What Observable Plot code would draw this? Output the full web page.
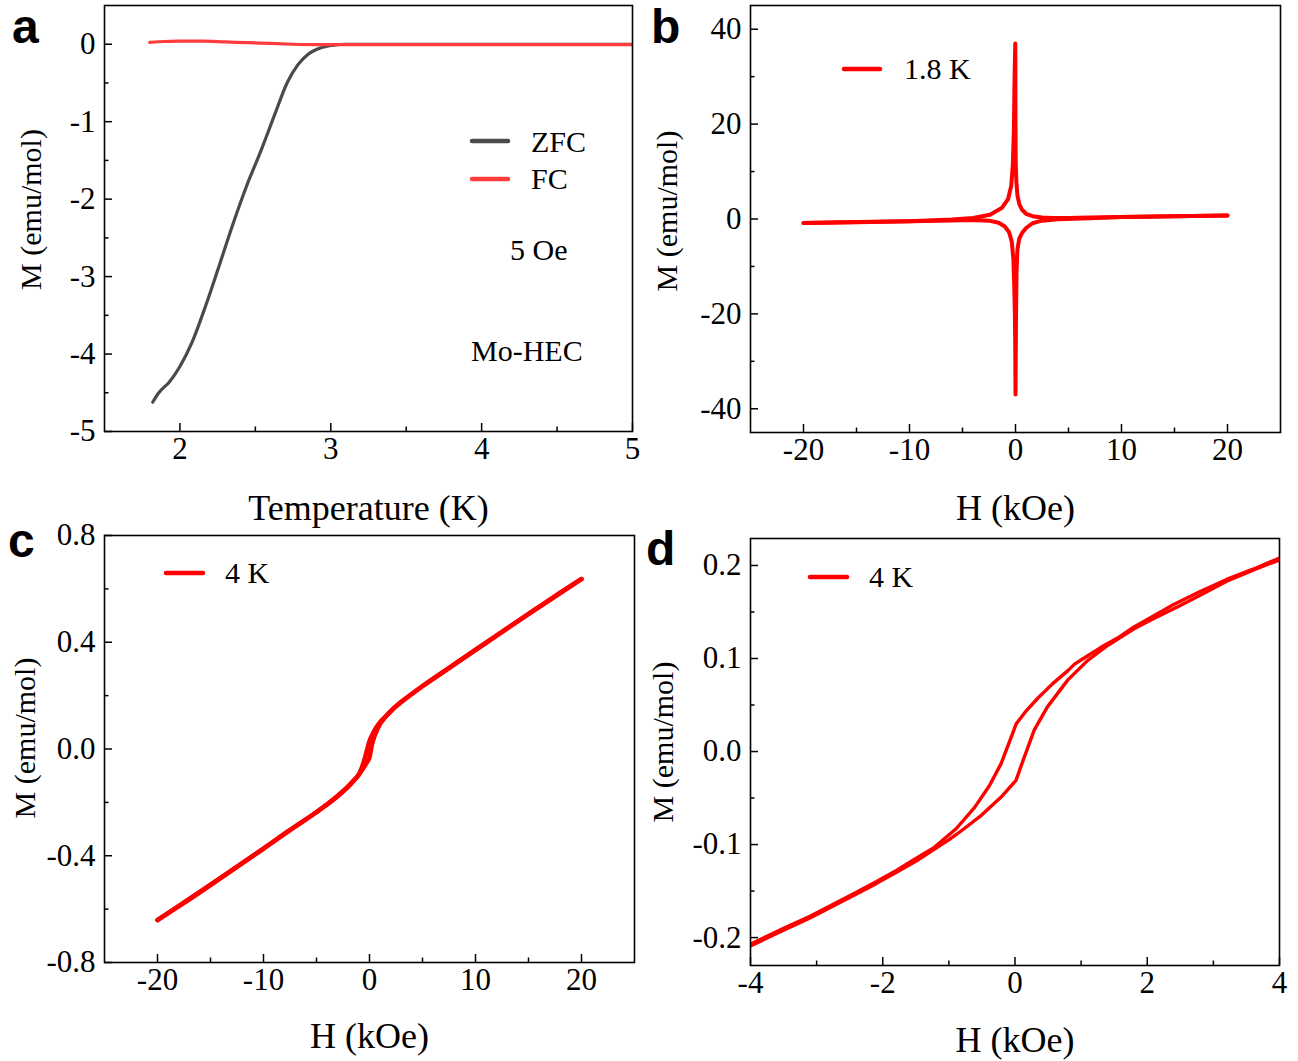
<!DOCTYPE html>
<html><head><meta charset="utf-8">
<script src="https://cdn.jsdelivr.net/npm/d3@7"></script>
<script src="https://cdn.jsdelivr.net/npm/@observablehq/plot@0.6"></script>
<style>
html,body{margin:0;padding:0;background:#fff;}
#root{position:relative;width:1298px;height:1061px;overflow:hidden;background:#fff;}
.panel{position:absolute;}
#overlay{position:absolute;left:0;top:0;}
</style></head><body><div id="root"></div>
<script>
// ---------- Panel a: ZFC / FC at 5 Oe ----------
const zfcT = [1.82, 1.86, 1.93, 2.0, 2.08, 2.17, 2.26, 2.35, 2.44, 2.54, 2.63, 2.71, 2.78, 2.85, 2.93, 3.01, 3.1, 3.5, 4.0, 4.5, 5.0];
const zfcM = [-4.62, -4.50, -4.36, -4.16, -3.85, -3.38, -2.86, -2.33, -1.84, -1.36, -0.90, -0.50, -0.27, -0.13, -0.05, -0.015, 0, 0, 0, 0, 0];
const fcT = [1.8, 1.9, 2.0, 2.15, 2.3, 2.45, 2.6, 2.75, 2.9, 3.2, 3.6, 4.0, 4.5, 5.0];
const fcM = [0.025, 0.035, 0.04, 0.04, 0.03, 0.02, 0.01, 0.0, -0.005, -0.005, -0.005, -0.005, -0.005, -0.005];
const aXMajor = [2, 3, 4, 5];
const aXMinor = [2.5, 3.5, 4.5];
const aYMajor = [0, -1, -2, -3, -4, -5];
const aYMinor = [-0.5, -1.5, -2.5, -3.5, -4.5];

// ---------- Panel b: M(H) loop at 1.8 K ----------
const bDescH = [20, 15, 10, 7, 5, 3.5, 2.5, 1.6, 1.0, 0.6, 0.35, 0.18, 0.08, 0.02, 0, -0.02, -0.06, -0.1, -0.15, -0.25, -0.4, -0.7, -1.3, -2.4, -4, -6, -10, -15, -20];
const bDescM = [0.72, 0.58, 0.42, 0.3, 0.22, 0.2, 0.3, 0.6, 1.1, 2.0, 3.2, 5.0, 8, 12, 20, 37, 33, 28, 19, 11.5, 7, 4.2, 2.3, 0.9, 0.2, -0.1, -0.45, -0.65, -0.85];
const bAscH = [-20, -15, -10, -6, -4, -2.5, -1.6, -1.0, -0.6, -0.35, -0.2, -0.12, -0.06, -0.02, 0, 0.02, 0.05, 0.1, 0.18, 0.35, 0.6, 1.0, 1.6, 2.5, 4, 7, 10, 15, 20];
const bAscM = [-0.85, -0.68, -0.5, -0.3, -0.22, -0.35, -0.8, -1.6, -2.8, -4.8, -8.5, -14, -20, -28, -37, -30, -20, -11, -6.5, -4.2, -3.0, -1.9, -0.9, -0.35, -0.05, 0.15, 0.4, 0.58, 0.72];
const bXMajor = [-20, -10, 0, 10, 20];
const bXMinor = [-15, -5, 5, 15];
const bYMajor = [40, 20, 0, -20, -40];
const bYMinor = [30, 10, -10, -30];

// ---------- Panel c: M(H) at 4 K, full range ----------
const cDescH = [20, 17.5, 15, 12.5, 10, 7.5, 5, 4, 3, 2, 1.5, 1, 0.5, 0.25, 0, -0.25, -0.5, -1, -1.5, -2, -3, -4, -5, -7.5, -10, -12.5, -15, -17.5, -20];
const cDescM = [0.637, 0.571, 0.505, 0.439, 0.372, 0.304, 0.236, 0.207, 0.177, 0.142, 0.121, 0.101, 0.072, 0.053, 0.03, -0.006, -0.043, -0.095, -0.118, -0.139, -0.175, -0.207, -0.236, -0.303, -0.373, -0.442, -0.51, -0.577, -0.641];
const cAscH = [-20, -17.5, -15, -12.5, -10, -7.5, -5, -4, -3, -2, -1.5, -1, -0.5, -0.25, 0, 0.25, 0.5, 1, 1.5, 2, 3, 4, 5, 7.5, 10, 12.5, 15, 17.5, 20];
const cAscM = [-0.641, -0.575, -0.508, -0.441, -0.373, -0.304, -0.237, -0.208, -0.177, -0.141, -0.12, -0.096, -0.067, -0.05, -0.031, 0.02, 0.051, 0.094, 0.12, 0.141, 0.176, 0.206, 0.235, 0.303, 0.37, 0.439, 0.506, 0.573, 0.637];
const cXMajor = [-20, -10, 0, 10, 20];
const cXMinor = [-15, -5, 5, 15];
const cYMajor = [0.8, 0.4, 0.0, -0.4, -0.8];
const cYMinor = [0.6, 0.2, -0.2, -0.6];

// ---------- Panel d: M(H) at 4 K, low field ----------
const dDescH = [4, 3.6, 3.2, 2.8, 2.4, 2.0, 1.8, 1.55, 1.3, 1.1, 0.9, 0.8, 0.57, 0.34, 0.15, 0.02, -0.06, -0.21, -0.39, -0.61, -0.89, -1.22, -1.5, -1.8, -2.1, -2.5, -2.8, -3.1, -3.5, -4];
const dDescM = [0.208, 0.196, 0.185, 0.172, 0.158, 0.142, 0.134, 0.122, 0.112, 0.103, 0.094, 0.087, 0.073, 0.057, 0.042, 0.030, 0.015, -0.013, -0.037, -0.060, -0.083, -0.103, -0.115, -0.128, -0.140, -0.155, -0.166, -0.177, -0.190, -0.207];
const dAscH = [-4, -3.5, -3.1, -2.8, -2.5, -2.1, -1.8, -1.5, -1.2, -1.0, -0.77, -0.5, -0.21, 0.015, 0.12, 0.29, 0.49, 0.8, 1.1, 1.4, 1.8, 2.1, 2.5, 2.8, 3.2, 3.6, 4];
const dAscM = [-0.209, -0.192, -0.179, -0.168, -0.157, -0.142, -0.130, -0.118, -0.104, -0.095, -0.083, -0.068, -0.049, -0.031, -0.010, 0.023, 0.048, 0.077, 0.098, 0.114, 0.132, 0.143, 0.157, 0.168, 0.183, 0.195, 0.206];
const dXMajor = [-4, -2, 0, 2, 4];
const dXMinor = [-3, -1, 1, 3];
const dYMajor = [0.2, 0.1, 0.0, -0.1, -0.2];
const dYMinor = [0.15, 0.05, -0.05, -0.15];

// ---------- text ----------
const xLabelT = "Temperature (K)";
const xLabelH = "H (kOe)";
const yLabelM = "M (emu/mol)";

const SERIF = "'Liberation Serif','Times New Roman',serif";
const SANS = "'Liberation Sans',Arial,sans-serif";
const zipXY = (xs, ys) => xs.map((x, i) => ({x, y: ys[i]}));
const intFmt = d => String(d);
const decFmt = d => d.toFixed(1);

const root = document.getElementById("root");

function panel(o) {
  const m = o.margin;
  const pw = o.width - m.left - m.right;
  const ph = o.height - m.top - m.bottom;
  const marks = [];
  for (const s of o.series) {
    marks.push(Plot.line(s.data, {x: "x", y: "y", stroke: s.color, strokeWidth: s.width,
      curve: s.curve || "linear", strokeLinejoin: "round", strokeLinecap: "round", clip: true}));
  }
  const tk = {stroke: "black", strokeWidth: 1.5};
  marks.push(Plot.tickX(o.xMajor, {x: d => d, insetTop: ph - 8, ...tk}));
  marks.push(Plot.tickX(o.xMinor, {x: d => d, insetTop: ph - 4.5, ...tk}));
  marks.push(Plot.tickY(o.yMajor, {y: d => d, insetRight: pw - 8, ...tk}));
  marks.push(Plot.tickY(o.yMinor, {y: d => d, insetRight: pw - 4.5, ...tk}));
  marks.push(Plot.frame({stroke: "black", strokeWidth: 1.6}));
  marks.push(Plot.axisX({ticks: o.xMajor, tickSize: 0, tickPadding: 5, tickFormat: o.xFmt, label: null,
    fontSize: 31, fontFamily: SERIF, fontVariant: "normal"}));
  marks.push(Plot.axisY({ticks: o.yMajor, tickSize: 0, tickPadding: 9, tickFormat: o.yFmt, label: null,
    fontSize: 31, fontFamily: SERIF, fontVariant: "normal"}));
  marks.push(Plot.text([o.xLabel], {text: d => d, frameAnchor: "bottom", lineAnchor: "middle", textAnchor: "middle",
    dy: o.xLabelDy, fontSize: 36, fontFamily: SERIF}));
  marks.push(Plot.text([o.yLabel], {text: d => d, frameAnchor: "left", lineAnchor: "middle", textAnchor: "middle",
    dx: o.yLabelDx, dy: o.yLabelDy, rotate: -90, fontSize: 30, fontFamily: SERIF}));
  const svg = Plot.plot({
    width: o.width, height: o.height,
    marginTop: m.top, marginRight: m.right, marginBottom: m.bottom, marginLeft: m.left,
    x: {domain: o.xDomain},
    y: {domain: o.yDomain},
    style: {fontFamily: SERIF, fontSize: "31px", color: "black", background: "transparent", overflow: "visible"},
    marks
  });
  svg.classList.add("panel");
  svg.style.left = o.left + "px";
  svg.style.top = o.top + "px";
  root.appendChild(svg);
}

panel({
  left: 0, top: 0, width: 650, height: 530,
  margin: {top: 5, right: 18, bottom: 99, left: 104},
  xDomain: [1.5, 5], yDomain: [-5, 0.5],
  xMajor: aXMajor, xMinor: aXMinor, yMajor: aYMajor, yMinor: aYMinor,
  xFmt: intFmt, yFmt: intFmt,
  series: [
    {data: zipXY(zfcT, zfcM), color: "#4a4a4a", width: 3.2, curve: "monotone-x"},
    {data: zipXY(fcT, fcM), color: "#ff3c3c", width: 3.2, curve: "monotone-x"}
  ],
  xLabel: xLabelT, xLabelDy: 77, yLabel: yLabelM, yLabelDx: -73, yLabelDy: -9
});

panel({
  left: 650, top: 0, width: 648, height: 530,
  margin: {top: 5, right: 18, bottom: 98, left: 100},
  xDomain: [-25, 25], yDomain: [-45, 45],
  xMajor: bXMajor, xMinor: bXMinor, yMajor: bYMajor, yMinor: bYMinor,
  xFmt: intFmt, yFmt: intFmt,
  series: [
    {data: zipXY(bDescH, bDescM), color: "#ff0000", width: 4},
    {data: zipXY(bAscH, bAscM), color: "#ff0000", width: 4}
  ],
  xLabel: xLabelH, xLabelDy: 76, yLabel: yLabelM, yLabelDx: -83, yLabelDy: -8
});

panel({
  left: 0, top: 530, width: 650, height: 531,
  margin: {top: 5, right: 16, bottom: 99, left: 104},
  xDomain: [-25, 25], yDomain: [-0.8, 0.8],
  xMajor: cXMajor, xMinor: cXMinor, yMajor: cYMajor, yMinor: cYMinor,
  xFmt: intFmt, yFmt: decFmt,
  series: [
    {data: zipXY(cDescH, cDescM), color: "#ff0000", width: 4.5, curve: "monotone-x"},
    {data: zipXY(cAscH, cAscM), color: "#ff0000", width: 4.5, curve: "monotone-x"}
  ],
  xLabel: xLabelH, xLabelDy: 74, yLabel: yLabelM, yLabelDx: -79, yLabelDy: -11
});

panel({
  left: 650, top: 530, width: 648, height: 531,
  margin: {top: 8, right: 19, bottom: 96, left: 100},
  xDomain: [-4, 4], yDomain: [-0.23, 0.229],
  xMajor: dXMajor, xMinor: dXMinor, yMajor: dYMajor, yMinor: dYMinor,
  xFmt: intFmt, yFmt: decFmt,
  series: [
    {data: zipXY(dDescH, dDescM), color: "#ff0000", width: 3.4},
    {data: zipXY(dAscH, dAscM), color: "#ff0000", width: 3.4}
  ],
  xLabel: xLabelH, xLabelDy: 75, yLabel: yLabelM, yLabelDx: -87, yLabelDy: -10
});

// ---------- overlay: panel letters and legends ----------
const panelLetters = ["a", "b", "c", "d"];
const letterPos = [[12, 43], [651, 43], [8, 557], [646, 565]];
const legendItems = [
  {label: "ZFC", color: "#4a4a4a", line: [472, 508, 141], text: [531, 152]},
  {label: "FC", color: "#ff3c3c", line: [472, 508, 179], text: [531, 189]},
  {label: "1.8 K", color: "#ff0000", line: [844, 880, 69], text: [904, 79]},
  {label: "4 K", color: "#ff0000", line: [166, 203, 573], text: [225, 583]},
  {label: "4 K", color: "#ff0000", line: [810, 847, 577], text: [869, 587]}
];
const notes = [{label: "5 Oe", at: [510, 260]}, {label: "Mo-HEC", at: [471, 361]}];

const ov = d3.create("svg").attr("id", "overlay").attr("width", 1298).attr("height", 1061);
ov.selectAll("text.letter").data(panelLetters).join("text").attr("class", "letter")
  .attr("x", (d, i) => letterPos[i][0]).attr("y", (d, i) => letterPos[i][1])
  .attr("font-family", SANS).attr("font-weight", "bold").attr("font-size", 48).text(d => d);
const lg = ov.selectAll("g.leg").data(legendItems).join("g").attr("class", "leg");
lg.append("line").attr("x1", d => d.line[0]).attr("x2", d => d.line[1])
  .attr("y1", d => d.line[2]).attr("y2", d => d.line[2])
  .attr("stroke", d => d.color).attr("stroke-width", 4.5).attr("stroke-linecap", "round");
lg.append("text").attr("x", d => d.text[0]).attr("y", d => d.text[1])
  .attr("font-family", SERIF).attr("font-size", 30).text(d => d.label);
ov.selectAll("text.note").data(notes).join("text").attr("class", "note")
  .attr("x", d => d.at[0]).attr("y", d => d.at[1])
  .attr("font-family", SERIF).attr("font-size", 30).text(d => d.label);
root.appendChild(ov.node());
</script></body></html>
